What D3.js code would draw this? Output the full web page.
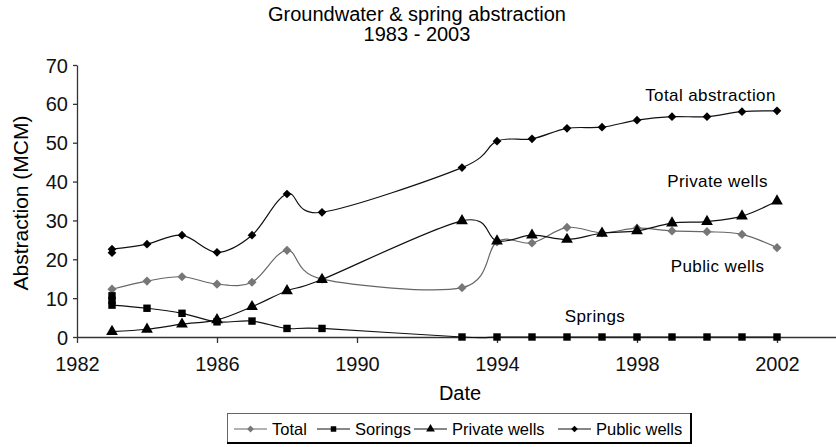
<!DOCTYPE html>
<html>
<head>
<meta charset="utf-8">
<script src="https://cdn.jsdelivr.net/npm/d3@7"></script>
<style>
  body { margin: 0; background: #fff; }
  svg { font-family: "Liberation Sans", Arial, sans-serif; }
</style>
</head>
<body>
<svg width="836" height="447"></svg>
<script>
// data
var years = [1983, 1984, 1985, 1986, 1987, 1988, 1989, 1993, 1994, 1995, 1996, 1997, 1998, 1999, 2000, 2001, 2002];
var totalVals   = [12.3, 14.4, 15.5, 13.6, 14.1, 22.3, 14.9, 12.7, 24.5, 24.2, 28.2, 26.8, 28.0, 27.3, 27.1, 26.4, 23.0];
var springVals  = [8.2, 7.4, 6.1, 3.9, 4.1, 2.2, 2.2, 0, 0, 0, 0, 0, 0, 0, 0, 0, 0];
var privateVals = [1.4, 2.0, 3.3, 4.4, 7.8, 11.9, 14.8, 29.9, 24.7, 26.2, 25.1, 26.7, 27.3, 29.3, 29.7, 31.1, 35.0];
var publicVals  = [22.6, 23.9, 26.2, 21.8, 26.2, 36.8, 32.1, 43.6, 50.4, 51.0, 53.7, 54.0, 55.8, 56.7, 56.7, 58.0, 58.2];
// stray markers at 1983
var extraSpring = [10.6, 9.4];
var extraPublic = [21.7];

var xTicks = [1982, 1986, 1990, 1994, 1998, 2002];
var yTicks = [0, 10, 20, 30, 40, 50, 60, 70];
var legendNames = ["Total", "Sorings", "Private wells", "Public wells"];
var notes = [
  { text: "Total abstraction", year: 2000.1, value: 60.7 },
  { text: "Private wells", year: 2000.3, value: 38.6 },
  { text: "Public wells", year: 2000.3, value: 16.7 },
  { text: "Springs", year: 1996.8, value: 3.9 }
];

var svg = d3.select("svg");

var x = d3.scaleLinear().domain([1982, 2004]).range([77, 847]);
var y = d3.scaleLinear().domain([0, 70]).range([337, 65]);

// title
svg.append("text").attr("x", 417).attr("y", 21).attr("text-anchor", "middle")
  .attr("font-size", "20px").text("Groundwater & spring abstraction");
svg.append("text").attr("x", 417).attr("y", 41).attr("text-anchor", "middle")
  .attr("font-size", "20px").text("1983 - 2003");

// axes
var gx = svg.append("g").attr("transform", "translate(0," + y(0) + ")")
  .call(d3.axisBottom(x).tickValues(xTicks).tickFormat(d3.format("d")).tickSize(6).tickSizeOuter(0));
gx.selectAll("text").attr("font-size", "20px").attr("y", 9).attr("dy", "1.25em").attr("fill", "#111");

var gy = svg.append("g").attr("transform", "translate(" + x(1982) + ",0)")
  .call(d3.axisLeft(y).tickValues(yTicks).tickSize(4).tickSizeOuter(0));
gy.selectAll("text").attr("font-size", "20px").attr("x", -9).attr("dy", "0.35em").attr("fill", "#111");

[gx, gy].forEach(function(g) {
  g.attr("font-family", null);
  g.selectAll("path, line").attr("stroke", "#333").attr("stroke-width", 1.3);
});

svg.append("text").attr("transform", "translate(28,203) rotate(-90)")
  .attr("text-anchor", "middle").attr("font-size", "21px").text("Abstraction (MCM)");
svg.append("text").attr("x", 460).attr("y", 400).attr("text-anchor", "middle")
  .attr("font-size", "20px").text("Date");

// series (diamonds are rotated squares)
var series = [
  { vals: totalVals, color: "#777", line: "#666", shape: d3.symbolSquare, rot: 45, size: 42 },
  { vals: springVals, color: "#000", line: "#111", shape: d3.symbolSquare, rot: 0, size: 55 },
  { vals: privateVals, color: "#000", line: "#111", shape: d3.symbolTriangle, rot: 0, size: 60 },
  { vals: publicVals, color: "#000", line: "#111", shape: d3.symbolSquare, rot: 45, size: 38 }
];

var line = d3.line()
  .x(function(d) { return x(d[0]); })
  .y(function(d) { return y(d[1]); })
  .curve(d3.curveCardinal.tension(0));

series.forEach(function(s, i) {
  var pts = years.map(function(yr, j) { return [yr, s.vals[j]]; });
  svg.append("path").datum(pts.slice())
    .attr("d", line).attr("fill", "none")
    .attr("stroke", s.line).attr("stroke-width", 1.2);

  if (i === 1) extraSpring.forEach(function(v) { pts.push([1983, v]); });
  if (i === 3) extraPublic.forEach(function(v) { pts.push([1983, v]); });

  svg.append("g").selectAll("path").data(pts).enter().append("path")
    .attr("transform", function(d) { return "translate(" + x(d[0]) + "," + y(d[1]) + ") rotate(" + s.rot + ")"; })
    .attr("d", d3.symbol().type(s.shape).size(s.size))
    .attr("fill", s.color);
});

// notes
svg.append("g").selectAll("text").data(notes).enter().append("text")
  .attr("x", function(d) { return x(d.year); })
  .attr("y", function(d) { return y(d.value); })
  .attr("text-anchor", "middle")
  .attr("font-size", "17px")
  .attr("letter-spacing", "0.4px")
  .text(function(d) { return d.text; });

// legend
var lg = svg.append("g");
lg.append("rect").attr("x", 227.5).attr("y", 413.5).attr("width", 463).attr("height", 29)
  .attr("fill", "#fff").attr("stroke", "#666").attr("stroke-width", 1);
lg.append("path").attr("d", "M691,413V443H227")
  .attr("fill", "none").attr("stroke", "#000").attr("stroke-width", 2);

var legendX = [234, 317, 414, 558];
legendNames.forEach(function(name, i) {
  var s = series[i];
  var g = lg.append("g").attr("transform", "translate(" + legendX[i] + ",429)");
  g.append("line").attr("x1", 0).attr("x2", 33).attr("stroke", s.line).attr("stroke-width", 1.2);
  g.append("path").attr("transform", "translate(16.5,0) rotate(" + s.rot + ")")
    .attr("d", d3.symbol().type(s.shape).size(s.size * 0.55)).attr("fill", s.color);
  g.append("text").attr("x", 38).attr("y", 0).attr("dy", "0.35em")
    .attr("font-size", "16.5px").text(name);
});
</script>
</body>
</html>
